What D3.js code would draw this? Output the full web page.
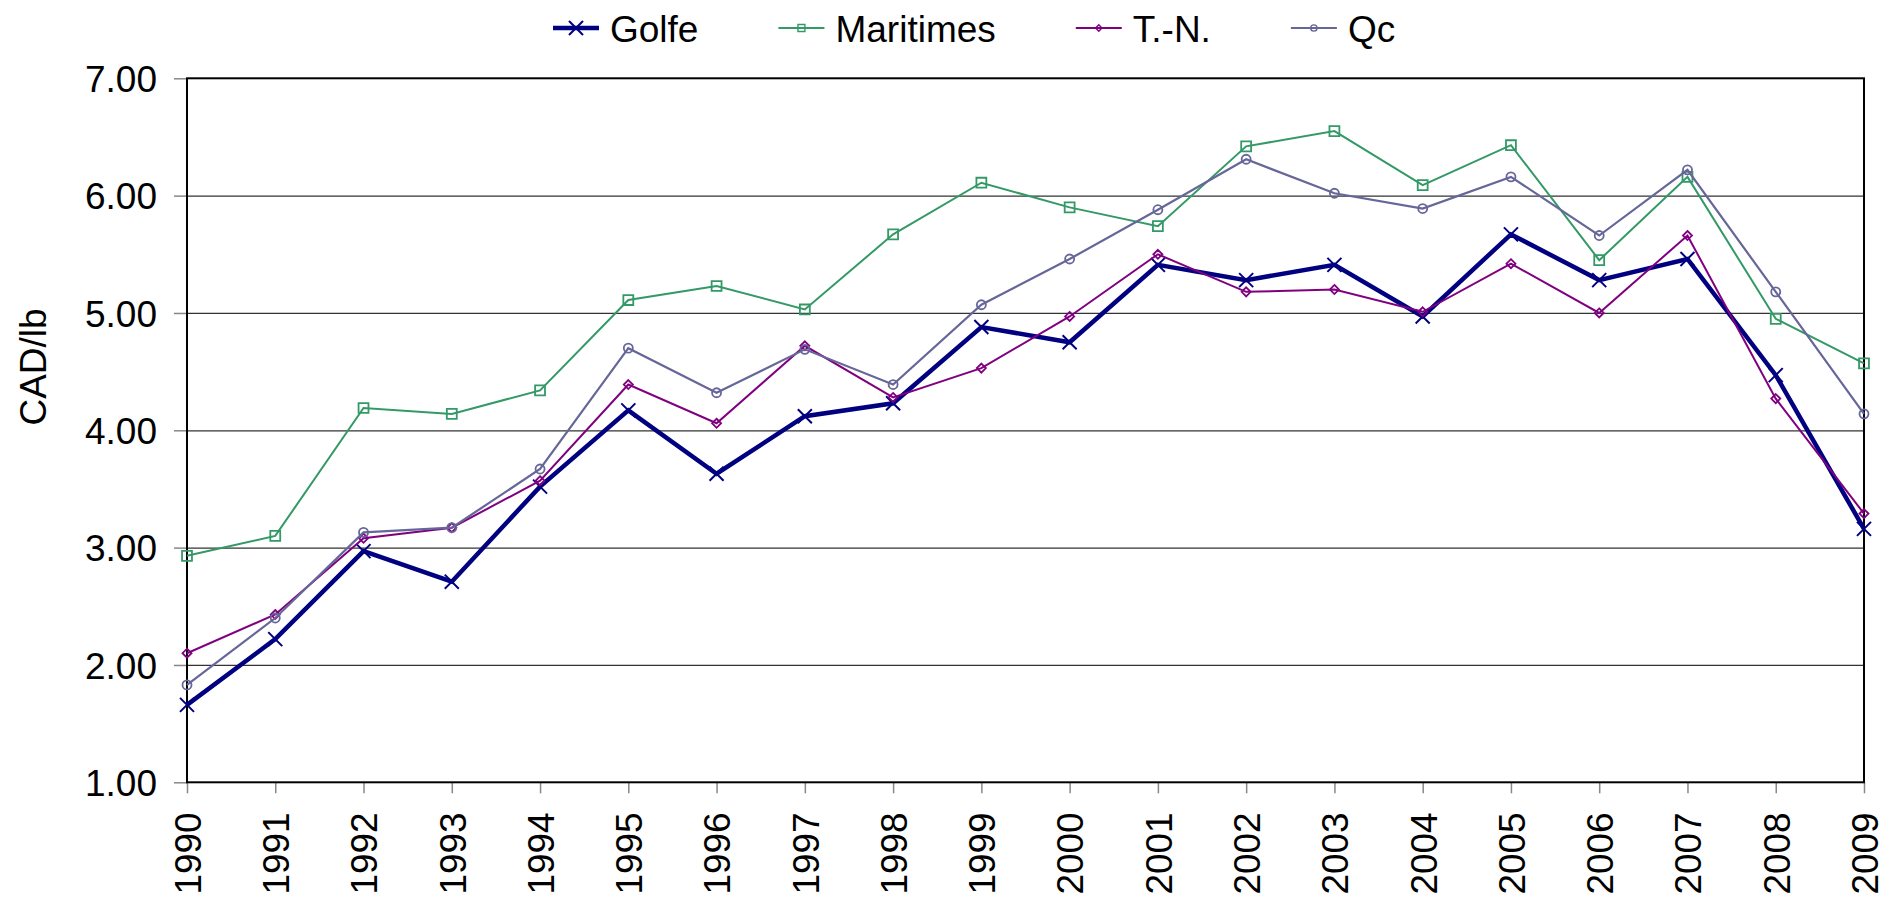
<!DOCTYPE html>
<html>
<head>
<meta charset="utf-8">
<script src="https://cdn.jsdelivr.net/npm/d3@7"></script>
<style>
  body { margin: 0; background: #fff; }
  text { font-family: Arial, "Liberation Sans", sans-serif; fill: #000; }
</style>
</head>
<body>
<div id="viz-container"></div>
<script>
let years = [1990, 1991, 1992, 1993, 1994, 1995, 1996, 1997, 1998, 1999,
             2000, 2001, 2002, 2003, 2004, 2005, 2006, 2007, 2008, 2009];

let golfe     = [1.66, 2.22, 2.97, 2.71, 3.52, 4.17, 3.63, 4.12, 4.23, 4.88,
                 4.75, 5.41, 5.28, 5.41, 4.97, 5.67, 5.28, 5.46, 4.47, 3.16];
let maritimes = [2.93, 3.10, 4.19, 4.14, 4.34, 5.11, 5.23, 5.03, 5.67, 6.11,
                 5.90, 5.74, 6.42, 6.55, 6.09, 6.43, 5.45, 6.16, 4.95, 4.57];
let terreNeuve = [2.10, 2.43, 3.08, 3.17, 3.57, 4.39, 4.06, 4.72, 4.28, 4.53,
                 4.97, 5.50, 5.18, 5.20, 5.01, 5.42, 5.00, 5.66, 4.27, 3.29];
let quebec    = [1.83, 2.40, 3.13, 3.17, 3.67, 4.70, 4.32, 4.69, 4.39, 5.07,
                 5.46, 5.88, 6.31, 6.02, 5.89, 6.16, 5.66, 6.22, 5.18, 4.14];

let yTicks = [1, 2, 3, 4, 5, 6, 7];
let yTitle = "CAD/lb";

// series styling
let series = [
  {name: "Golfe",     values: golfe,      color: "#000080", width: 4.5, marker: "x"},
  {name: "Maritimes", values: maritimes,  color: "#339966", width: 2,   marker: "square"},
  {name: "T.-N.",     values: terreNeuve, color: "#800080", width: 2,   marker: "diamond"},
  {name: "Qc",        values: quebec,     color: "#666699", width: 2.2, marker: "circle"}
];

let W = 1882, H = 898;
let plotLeft = 187, plotRight = 1864, plotTop = 78.3, plotBottom = 782.3;

let viz = d3.select("#viz-container")
  .append("svg")
  .attr("width", W)
  .attr("height", H);

let x = d3.scalePoint().domain(years).range([plotLeft, plotRight]).padding(0);
let y = d3.scaleLinear().domain([1, 7]).range([plotBottom, plotTop]);

// gridlines
viz.append("g")
  .attr("transform", "translate(" + plotLeft + ",0)")
  .call(d3.axisLeft(y).tickValues(yTicks.slice(1, -1)).tickSize(-(plotRight - plotLeft)).tickFormat(""))
  .call(g => g.select(".domain").remove())
  .call(g => g.selectAll("line").attr("stroke", "#333").attr("stroke-width", 1.3));

// y axis
let yAxis = viz.append("g")
  .attr("transform", "translate(" + plotLeft + ",0)")
  .call(d3.axisLeft(y).tickValues(yTicks).tickSize(13).tickPadding(17).tickFormat(d3.format(".2f")));
yAxis.select(".domain").remove();
yAxis.selectAll("line").attr("stroke", "#888").attr("stroke-width", 1.5);
yAxis.selectAll("text").attr("font-size", 37).attr("dy", "0.36em")
  .style("font-family", "Arial, 'Liberation Sans', sans-serif");

// x axis
let xAxis = viz.append("g")
  .attr("transform", "translate(0," + plotBottom + ")")
  .call(d3.axisBottom(x).tickSize(11).tickFormat(d => d));
xAxis.select(".domain").remove();
xAxis.selectAll("line").attr("stroke", "#888").attr("stroke-width", 1.5);
xAxis.selectAll("text")
  .attr("font-size", 37)
  .attr("text-anchor", "end")
  .attr("transform", "translate(0,30) rotate(-90)")
  .attr("x", 0).attr("y", 0)
  .attr("dy", "0.36em")
  .style("font-family", "Arial, 'Liberation Sans', sans-serif");

// plot frame
viz.append("rect")
  .attr("x", plotLeft).attr("y", plotTop)
  .attr("width", plotRight - plotLeft).attr("height", plotBottom - plotTop)
  .attr("fill", "none").attr("stroke", "#000").attr("stroke-width", 2);

// y title
viz.append("text")
  .attr("transform", "translate(33,367) rotate(-90)")
  .attr("text-anchor", "middle")
  .attr("dy", "0.36em")
  .attr("font-size", 37)
  .text(yTitle);

function markerPath(type) {
  if (type == "x") {
    return d3.symbol().type(d3.symbolTimes || d3.symbolX).size(130)();
  } else if (type == "square") {
    return d3.symbol().type(d3.symbolSquare2 || d3.symbolSquare).size(125)();
  } else if (type == "diamond") {
    return d3.symbol().type(d3.symbolDiamond2 || d3.symbolDiamond).size(52)();
  } else {
    return d3.symbol().type(d3.symbolCircle).size(64)();
  }
}

let line = d3.line()
  .x((d, i) => x(years[i]))
  .y(d => y(d));

series.forEach(function(s) {
  let g = viz.append("g");
  g.append("path")
    .attr("d", line(s.values))
    .attr("fill", "none")
    .attr("stroke", s.color)
    .attr("stroke-width", s.width)
    .attr("stroke-linejoin", "miter");
  g.selectAll("path.mk").data(s.values).enter().append("path")
    .attr("class", "mk")
    .attr("d", markerPath(s.marker))
    .attr("transform", (d, i) => "translate(" + x(years[i]) + "," + y(d) + ")")
    .attr("fill", "none")
    .attr("stroke", s.color)
    .attr("stroke-width", s.marker == "x" ? 2 : 1.8);
});

// legend
let lx = 553;
let legend = viz.append("g");
series.forEach(function(s) {
  let item = legend.append("g");
  item.append("line")
    .attr("x1", lx).attr("x2", lx + 46)
    .attr("y1", 28).attr("y2", 28)
    .attr("stroke", s.color)
    .attr("stroke-width", s.width);
  item.append("path")
    .attr("d", markerPath(s.marker))
    .attr("transform", "translate(" + (lx + 23) + ",28)" + (s.marker == "x" ? "" : " scale(0.7)"))
    .attr("fill", "none")
    .attr("stroke", s.color)
    .attr("stroke-width", 2);
  let t = item.append("text")
    .attr("x", lx + 57)
    .attr("y", 42)
    .attr("font-size", 37)
    .text(s.name);
  lx = lx + 57 + t.node().getComputedTextLength() + 80;
});
</script>
</body>
</html>
